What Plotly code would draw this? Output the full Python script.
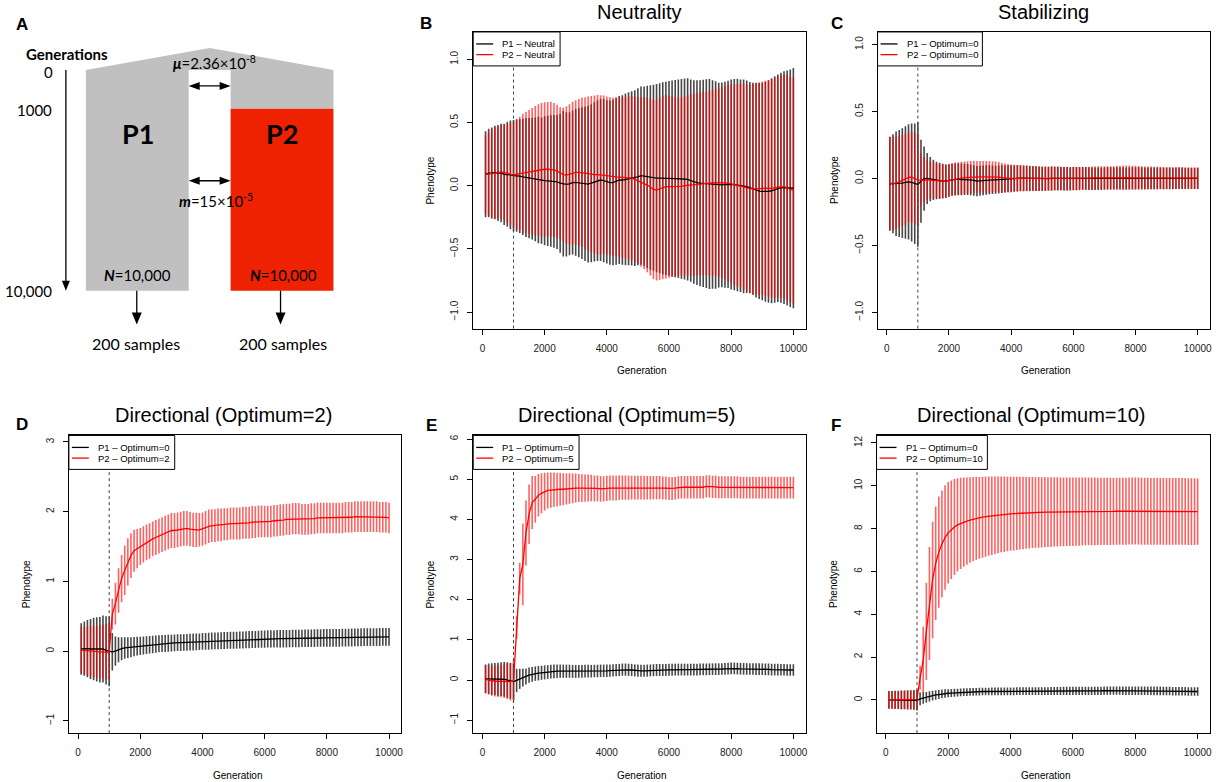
import plotly.graph_objects as go

W, H = 1220, 782

# ---------------- data ----------------
generations = list(range(100, 10001, 100))
x_ticks = [0, 2000, 4000, 6000, 8000, 10000]
onset_generation = 1000

# Panel B : Neutrality
neutral_p1_mean = [0.09, 0.10, 0.10, 0.105, 0.10, 0.10, 0.09, 0.09, 0.085, 0.08,
                   0.08, 0.075, 0.07, 0.065, 0.06, 0.055, 0.05, 0.045, 0.04, 0.04,
                   0.038, 0.037, 0.035, 0.03, 0.02, 0.015, 0.01, 0.015, 0.025, 0.027,
                   0.025, 0.02, 0.015, 0.013, 0.02, 0.03, 0.04, 0.045, 0.04, 0.03,
                   0.024, 0.025, 0.035, 0.045, 0.045, 0.05, 0.055, 0.058, 0.06, 0.07,
                   0.079, 0.075, 0.07, 0.065, 0.063, 0.06, 0.06, 0.058, 0.058, 0.058,
                   0.057, 0.056, 0.055, 0.054, 0.053, 0.05, 0.04, 0.03, 0.024, 0.02,
                   0.018, 0.016, 0.014, 0.01, 0.006, 0.005, 0.006, 0.008, 0.01, 0.01,
                   0.008, 0.005, 0.0, -0.005, -0.008, -0.015, -0.025, -0.035, -0.042, -0.045,
                   -0.047, -0.045, -0.04, -0.03, -0.02, -0.016, -0.015, -0.018, -0.02, -0.02]
neutral_p1_sd = [0.34, 0.35, 0.36, 0.37, 0.38, 0.39, 0.40, 0.415, 0.43, 0.44,
                 0.445, 0.45, 0.46, 0.47, 0.475, 0.48, 0.49, 0.50, 0.50, 0.51,
                 0.515, 0.52, 0.525, 0.53, 0.55, 0.575, 0.57, 0.565, 0.57, 0.58,
                 0.59, 0.60, 0.61, 0.62, 0.625, 0.63, 0.635, 0.64, 0.645, 0.645,
                 0.65, 0.655, 0.66, 0.665, 0.67, 0.68, 0.685, 0.69, 0.695, 0.70,
                 0.705, 0.71, 0.72, 0.73, 0.735, 0.745, 0.75, 0.76, 0.765, 0.77,
                 0.775, 0.78, 0.785, 0.79, 0.795, 0.80, 0.80, 0.805, 0.81, 0.815,
                 0.82, 0.825, 0.83, 0.825, 0.82, 0.81, 0.81, 0.815, 0.82, 0.83,
                 0.835, 0.84, 0.84, 0.845, 0.84, 0.835, 0.84, 0.85, 0.855, 0.86,
                 0.87, 0.88, 0.89, 0.895, 0.90, 0.91, 0.92, 0.93, 0.94, 0.95]
neutral_p2_mean = [0.09, 0.09, 0.095, 0.10, 0.105, 0.11, 0.105, 0.095, 0.09, 0.085,
                   0.088, 0.095, 0.10, 0.105, 0.11, 0.115, 0.12, 0.125, 0.13, 0.13,
                   0.13, 0.13, 0.125, 0.115, 0.10, 0.088, 0.084, 0.09, 0.10, 0.105,
                   0.105, 0.105, 0.10, 0.095, 0.09, 0.088, 0.087, 0.085, 0.085, 0.08,
                   0.075, 0.07, 0.07, 0.068, 0.066, 0.064, 0.063, 0.06, 0.05, 0.04,
                   0.03, 0.02, 0.005, -0.01, -0.03, -0.034, -0.025, -0.015, -0.008, -0.008,
                   -0.008, -0.01, -0.008, -0.005, 0.0, 0.003, 0.005, 0.008, 0.012, 0.015,
                   0.018, 0.018, 0.02, 0.022, 0.024, 0.024, 0.024, 0.024, 0.02, 0.015,
                   0.01, 0.005, 0.0, -0.01, -0.018, -0.024, -0.026, -0.025, -0.022, -0.02,
                   -0.02, -0.021, -0.021, -0.018, -0.012, -0.008, -0.008, -0.015, -0.03, -0.037]
neutral_p2_sd = [0.31, 0.33, 0.355, 0.36, 0.365, 0.37, 0.38, 0.39, 0.405, 0.42,
                 0.435, 0.45, 0.47, 0.48, 0.49, 0.50, 0.51, 0.52, 0.525, 0.53,
                 0.532, 0.535, 0.53, 0.525, 0.52, 0.53, 0.545, 0.555, 0.565, 0.57,
                 0.58, 0.59, 0.60, 0.61, 0.62, 0.625, 0.63, 0.63, 0.628, 0.625,
                 0.625, 0.625, 0.628, 0.63, 0.635, 0.64, 0.645, 0.65, 0.655, 0.66,
                 0.67, 0.68, 0.69, 0.70, 0.71, 0.715, 0.72, 0.725, 0.725, 0.72,
                 0.715, 0.71, 0.705, 0.705, 0.71, 0.715, 0.72, 0.72, 0.722, 0.724,
                 0.725, 0.725, 0.73, 0.735, 0.74, 0.745, 0.755, 0.765, 0.775, 0.785,
                 0.795, 0.80, 0.805, 0.81, 0.815, 0.82, 0.83, 0.835, 0.84, 0.845,
                 0.85, 0.855, 0.865, 0.87, 0.875, 0.88, 0.885, 0.89, 0.89, 0.895]

# Panel C : Stabilizing
stab_p1_mean = [-0.04, -0.04, -0.04, -0.038, -0.035, -0.03, -0.025, -0.03, -0.04, -0.045,
                -0.02, -0.002, 0.0, -0.005, -0.01, -0.015, -0.018, -0.02, -0.02, -0.015,
                -0.01, -0.007, -0.007, -0.007, -0.007, -0.008, -0.01, -0.015, -0.02, -0.018,
                -0.015, -0.012, -0.01, -0.01, -0.01, -0.008, -0.005, -0.003, -0.001, 0.0,
                0.0, 0.001, 0.002, 0.002, 0.001, 0.0, 0.0, -0.001, -0.002, -0.002,
                -0.002, -0.001, 0.0, 0.0, 0.0, -0.001, -0.002, -0.002, -0.002, -0.001,
                0.0, 0.0, 0.0, 0.0, -0.001, -0.002, -0.003, -0.003, -0.002, -0.001,
                0.0, 0.001, 0.001, 0.001, 0.0, 0.0, 0.0, 0.001, 0.002, 0.002,
                0.002, 0.001, 0.0, 0.0, 0.0, 0.0, 0.001, 0.001, 0.0, 0.0,
                0.0, 0.0, 0.001, 0.001, 0.001, 0.0, 0.0, 0.0, 0.0, 0.0]
stab_p1_sd = [0.35, 0.37, 0.39, 0.40, 0.41, 0.42, 0.43, 0.44, 0.45, 0.465,
              0.31, 0.24, 0.19, 0.165, 0.15, 0.14, 0.135, 0.13, 0.125, 0.122,
              0.12, 0.12, 0.118, 0.118, 0.117, 0.116, 0.115, 0.114, 0.113, 0.112,
              0.111, 0.11, 0.108, 0.106, 0.105, 0.104, 0.103, 0.102, 0.1, 0.099,
              0.098, 0.097, 0.096, 0.095, 0.094, 0.093, 0.092, 0.092, 0.091, 0.09,
              0.09, 0.089, 0.089, 0.088, 0.088, 0.087, 0.087, 0.087, 0.086, 0.086,
              0.086, 0.085, 0.085, 0.085, 0.085, 0.084, 0.084, 0.084, 0.084, 0.084,
              0.083, 0.083, 0.083, 0.083, 0.083, 0.083, 0.082, 0.082, 0.082, 0.082,
              0.082, 0.082, 0.081, 0.081, 0.081, 0.081, 0.081, 0.08, 0.08, 0.08,
              0.08, 0.08, 0.08, 0.08, 0.08, 0.079, 0.079, 0.079, 0.079, 0.079]
stab_p2_mean = [-0.037, -0.037, -0.035, -0.025, -0.015, -0.005, 0.008, 0.01, 0.0, -0.012,
                -0.012, -0.01, -0.01, -0.012, -0.015, -0.018, -0.02, -0.02, -0.02, -0.015,
                -0.008, -0.002, 0.0, 0.003, 0.006, 0.008, 0.01, 0.012, 0.012, 0.012,
                0.012, 0.012, 0.012, 0.012, 0.012, 0.01, 0.006, 0.003, 0.001, 0.0,
                0.0, 0.0, 0.0, 0.0, 0.0, 0.0, -0.001, -0.001, -0.002, -0.002,
                -0.002, -0.002, -0.001, 0.0, 0.0, 0.0, 0.0, -0.001, -0.002, -0.002,
                -0.002, -0.002, -0.001, 0.0, 0.002, 0.004, 0.005, 0.005, 0.005, 0.005,
                0.005, 0.005, 0.005, 0.006, 0.006, 0.006, 0.006, 0.006, 0.005, 0.005,
                0.005, 0.005, 0.004, 0.004, 0.004, 0.004, 0.003, 0.003, 0.003, 0.003,
                0.003, 0.003, 0.003, 0.003, 0.003, 0.003, 0.003, 0.003, 0.003, 0.003]
stab_p2_sd = [0.35, 0.35, 0.345, 0.34, 0.34, 0.34, 0.335, 0.34, 0.345, 0.34,
              0.2, 0.17, 0.15, 0.14, 0.135, 0.13, 0.128, 0.125, 0.124, 0.123,
              0.122, 0.122, 0.121, 0.121, 0.12, 0.12, 0.12, 0.12, 0.119, 0.119,
              0.118, 0.118, 0.117, 0.116, 0.115, 0.113, 0.11, 0.108, 0.106, 0.104,
              0.102, 0.1, 0.098, 0.097, 0.096, 0.095, 0.094, 0.093, 0.092, 0.092,
              0.091, 0.09, 0.09, 0.089, 0.089, 0.088, 0.088, 0.088, 0.087, 0.087,
              0.087, 0.086, 0.086, 0.086, 0.086, 0.086, 0.086, 0.086, 0.086, 0.086,
              0.086, 0.087, 0.087, 0.088, 0.089, 0.09, 0.09, 0.09, 0.09, 0.089,
              0.088, 0.087, 0.086, 0.085, 0.085, 0.084, 0.084, 0.083, 0.083, 0.082,
              0.082, 0.081, 0.081, 0.08, 0.08, 0.08, 0.08, 0.08, 0.08, 0.08]

# Panel D : Directional, optimum 2
dir2_p1_mean = [0.03, 0.035, 0.035, 0.03, 0.03, 0.025, 0.02, 0.03, 0.01, -0.005,
                -0.01, 0.0, 0.02, 0.035, 0.045, 0.05, 0.055, 0.065, 0.07, 0.075,
                0.08, 0.085, 0.09, 0.095, 0.1, 0.105, 0.108, 0.11, 0.112, 0.115,
                0.118, 0.12, 0.122, 0.124, 0.126, 0.128, 0.13, 0.132, 0.135, 0.138,
                0.14, 0.142, 0.144, 0.146, 0.148, 0.15, 0.152, 0.153, 0.155, 0.156,
                0.157, 0.158, 0.16, 0.162, 0.164, 0.166, 0.168, 0.17, 0.172, 0.173,
                0.174, 0.175, 0.176, 0.177, 0.178, 0.178, 0.178, 0.179, 0.18, 0.18,
                0.181, 0.182, 0.183, 0.184, 0.185, 0.186, 0.187, 0.188, 0.189, 0.19,
                0.19, 0.19, 0.19, 0.191, 0.192, 0.193, 0.194, 0.195, 0.196, 0.197,
                0.198, 0.2, 0.2, 0.2, 0.2, 0.201, 0.202, 0.203, 0.204, 0.205]
dir2_p1_sd = [0.37, 0.39, 0.41, 0.43, 0.45, 0.46, 0.47, 0.48, 0.49, 0.5,
              0.27, 0.21, 0.18, 0.165, 0.155, 0.148, 0.142, 0.138, 0.134, 0.131,
              0.129, 0.127, 0.126, 0.125, 0.124, 0.123, 0.122, 0.122, 0.121, 0.121,
              0.121, 0.12, 0.12, 0.119, 0.12, 0.12, 0.121, 0.12, 0.119, 0.12,
              0.12, 0.121, 0.121, 0.12, 0.12, 0.12, 0.121, 0.121, 0.121, 0.122,
              0.122, 0.122, 0.122, 0.123, 0.123, 0.122, 0.122, 0.123, 0.123, 0.124,
              0.124, 0.124, 0.124, 0.124, 0.125, 0.125, 0.125, 0.125, 0.125, 0.125,
              0.125, 0.125, 0.126, 0.126, 0.126, 0.126, 0.126, 0.126, 0.127, 0.127,
              0.127, 0.127, 0.127, 0.127, 0.127, 0.128, 0.128, 0.128, 0.128, 0.128,
              0.128, 0.128, 0.128, 0.128, 0.128, 0.128, 0.128, 0.128, 0.128, 0.128]
dir2_p2_mean = [0.015, 0.01, 0.005, 0.0, -0.01, -0.01, -0.01, -0.01, -0.01, -0.02,
                0.53, 0.68, 0.87, 1.04, 1.16, 1.28, 1.37, 1.44, 1.47, 1.5,
                1.53, 1.56, 1.58, 1.61, 1.63, 1.65, 1.67, 1.69, 1.71, 1.73,
                1.73, 1.74, 1.75, 1.76, 1.76, 1.75, 1.74, 1.74, 1.74, 1.75,
                1.77, 1.79, 1.8, 1.8, 1.81, 1.81, 1.82, 1.82, 1.83, 1.83,
                1.83, 1.83, 1.84, 1.84, 1.84, 1.85, 1.85, 1.86, 1.86, 1.86,
                1.86, 1.86, 1.87, 1.87, 1.88, 1.88, 1.89, 1.89, 1.9, 1.9,
                1.9, 1.89, 1.89, 1.89, 1.9, 1.9, 1.91, 1.91, 1.91, 1.91,
                1.91, 1.91, 1.91, 1.91, 1.91, 1.92, 1.92, 1.92, 1.93, 1.93,
                1.93, 1.93, 1.93, 1.93, 1.93, 1.93, 1.92, 1.92, 1.92, 1.91]
dir2_p2_sd = [0.33, 0.34, 0.35, 0.36, 0.37, 0.37, 0.38, 0.39, 0.4, 0.4,
              0.22, 0.3, 0.32, 0.34, 0.355, 0.34, 0.32, 0.3, 0.28, 0.265,
              0.26, 0.255, 0.255, 0.25, 0.25, 0.25, 0.25, 0.25, 0.25, 0.25,
              0.25, 0.25, 0.25, 0.25, 0.25, 0.245, 0.245, 0.245, 0.24, 0.24,
              0.24, 0.24, 0.235, 0.235, 0.235, 0.235, 0.23, 0.23, 0.23, 0.23,
              0.23, 0.23, 0.23, 0.23, 0.23, 0.23, 0.228, 0.228, 0.228, 0.226,
              0.226, 0.226, 0.225, 0.225, 0.225, 0.225, 0.224, 0.224, 0.224, 0.223,
              0.223, 0.222, 0.222, 0.222, 0.222, 0.221, 0.221, 0.221, 0.22, 0.22,
              0.22, 0.22, 0.22, 0.22, 0.22, 0.22, 0.22, 0.22, 0.22, 0.22,
              0.22, 0.22, 0.22, 0.22, 0.22, 0.22, 0.22, 0.22, 0.22, 0.22]

# Panel E : Directional, optimum 5
dir5_p1_mean = [0.03, 0.03, 0.025, 0.025, 0.02, 0.02, 0.02, 0.0, -0.02, -0.04,
                -0.01, 0.03, 0.06, 0.09, 0.12, 0.14, 0.16, 0.17, 0.18, 0.19,
                0.2, 0.21, 0.215, 0.22, 0.22, 0.22, 0.22, 0.22, 0.215, 0.215,
                0.215, 0.215, 0.22, 0.22, 0.22, 0.225, 0.225, 0.23, 0.23, 0.23,
                0.235, 0.24, 0.245, 0.25, 0.26, 0.26, 0.255, 0.25, 0.24, 0.235,
                0.23, 0.23, 0.235, 0.24, 0.245, 0.25, 0.25, 0.25, 0.25, 0.255,
                0.255, 0.26, 0.26, 0.26, 0.26, 0.26, 0.26, 0.26, 0.26, 0.265,
                0.265, 0.265, 0.27, 0.27, 0.27, 0.27, 0.275, 0.28, 0.285, 0.29,
                0.29, 0.285, 0.28, 0.28, 0.275, 0.275, 0.275, 0.27, 0.27, 0.27,
                0.265, 0.265, 0.26, 0.26, 0.26, 0.255, 0.255, 0.25, 0.25, 0.25]
dir5_p1_sd = [0.36, 0.38, 0.39, 0.4, 0.41, 0.42, 0.43, 0.44, 0.44, 0.45,
              0.29, 0.25, 0.22, 0.2, 0.19, 0.185, 0.18, 0.18, 0.175, 0.175,
              0.172, 0.17, 0.17, 0.168, 0.166, 0.165, 0.164, 0.163, 0.162, 0.161,
              0.16, 0.16, 0.159, 0.158, 0.157, 0.156, 0.156, 0.155, 0.155, 0.154,
              0.154, 0.153, 0.153, 0.152, 0.152, 0.152, 0.151, 0.151, 0.15, 0.15,
              0.15, 0.15, 0.15, 0.149, 0.149, 0.149, 0.149, 0.148, 0.148, 0.148,
              0.148, 0.148, 0.147, 0.147, 0.147, 0.147, 0.147, 0.147, 0.146, 0.146,
              0.146, 0.146, 0.146, 0.146, 0.146, 0.146, 0.146, 0.146, 0.146, 0.146,
              0.146, 0.146, 0.146, 0.146, 0.145, 0.145, 0.145, 0.145, 0.145, 0.145,
              0.145, 0.145, 0.145, 0.145, 0.145, 0.145, 0.145, 0.145, 0.145, 0.145]
dir5_p2_mean = [0.02, 0.0, -0.02, -0.03, -0.03, -0.03, -0.03, -0.03, -0.04, -0.02,
                1.31, 2.53, 2.88, 3.66, 4.13, 4.42, 4.5, 4.6, 4.65, 4.69,
                4.72, 4.73, 4.74, 4.74, 4.75, 4.75, 4.76, 4.77, 4.77, 4.78,
                4.78, 4.78, 4.78, 4.78, 4.78, 4.77, 4.77, 4.76, 4.76, 4.77,
                4.78, 4.78, 4.78, 4.79, 4.79, 4.79, 4.79, 4.79, 4.79, 4.79,
                4.79, 4.79, 4.79, 4.79, 4.79, 4.79, 4.79, 4.78, 4.78, 4.77,
                4.77, 4.78, 4.79, 4.8, 4.8, 4.8, 4.8, 4.8, 4.8, 4.8,
                4.8, 4.82, 4.82, 4.81, 4.81, 4.8, 4.8, 4.8, 4.8, 4.8,
                4.8, 4.8, 4.79, 4.79, 4.79, 4.79, 4.79, 4.79, 4.79, 4.79,
                4.79, 4.79, 4.79, 4.79, 4.79, 4.79, 4.79, 4.79, 4.79, 4.79]
dir5_p2_sd = [0.35, 0.36, 0.37, 0.38, 0.39, 0.4, 0.42, 0.44, 0.47, 0.52,
              0.28, 0.39, 1.02, 0.81, 0.74, 0.66, 0.58, 0.53, 0.5, 0.47,
              0.45, 0.44, 0.43, 0.42, 0.41, 0.4, 0.39, 0.38, 0.37, 0.36,
              0.35, 0.345, 0.34, 0.335, 0.33, 0.325, 0.32, 0.318, 0.316, 0.314,
              0.312, 0.31, 0.308, 0.306, 0.304, 0.302, 0.3, 0.298, 0.297, 0.296,
              0.295, 0.294, 0.293, 0.292, 0.291, 0.29, 0.289, 0.288, 0.287, 0.286,
              0.285, 0.284, 0.283, 0.282, 0.281, 0.28, 0.28, 0.279, 0.279, 0.278,
              0.278, 0.277, 0.277, 0.276, 0.276, 0.275, 0.275, 0.274, 0.274, 0.273,
              0.273, 0.272, 0.272, 0.271, 0.271, 0.27, 0.27, 0.27, 0.27, 0.27,
              0.27, 0.27, 0.27, 0.27, 0.27, 0.27, 0.27, 0.27, 0.27, 0.27]

# Panel F : Directional, optimum 10
dir10_p1_mean = [0.0, 0.0, 0.0, 0.0, 0.0, 0.0, 0.0, 0.0, 0.0, -0.02,
                 0.05, 0.09, 0.12, 0.16, 0.2, 0.23, 0.25, 0.28, 0.3, 0.31,
                 0.32, 0.33, 0.34, 0.35, 0.36, 0.365, 0.37, 0.375, 0.38, 0.385,
                 0.39, 0.39, 0.39, 0.395, 0.395, 0.4, 0.4, 0.4, 0.4, 0.4,
                 0.4, 0.405, 0.41, 0.41, 0.41, 0.41, 0.41, 0.41, 0.41, 0.41,
                 0.41, 0.41, 0.41, 0.415, 0.415, 0.415, 0.42, 0.42, 0.42, 0.42,
                 0.42, 0.42, 0.42, 0.42, 0.42, 0.425, 0.425, 0.425, 0.425, 0.43,
                 0.43, 0.43, 0.43, 0.43, 0.43, 0.43, 0.43, 0.43, 0.43, 0.43,
                 0.43, 0.43, 0.43, 0.425, 0.425, 0.42, 0.42, 0.42, 0.415, 0.41,
                 0.41, 0.405, 0.4, 0.4, 0.4, 0.4, 0.395, 0.39, 0.39, 0.39]
dir10_p1_sd = [0.41, 0.42, 0.43, 0.43, 0.44, 0.44, 0.45, 0.45, 0.46, 0.48,
               0.3, 0.27, 0.25, 0.24, 0.23, 0.22, 0.21, 0.2, 0.2, 0.19,
               0.19, 0.19, 0.185, 0.185, 0.18, 0.18, 0.18, 0.18, 0.18, 0.18,
               0.18, 0.18, 0.18, 0.18, 0.18, 0.18, 0.18, 0.18, 0.18, 0.18,
               0.18, 0.18, 0.181, 0.181, 0.182, 0.182, 0.183, 0.183, 0.184, 0.184,
               0.185, 0.185, 0.186, 0.186, 0.187, 0.187, 0.188, 0.188, 0.189, 0.189,
               0.19, 0.19, 0.19, 0.191, 0.191, 0.192, 0.192, 0.193, 0.193, 0.194,
               0.194, 0.195, 0.195, 0.196, 0.196, 0.197, 0.197, 0.198, 0.198, 0.199,
               0.199, 0.2, 0.2, 0.2, 0.2, 0.2, 0.2, 0.2, 0.2, 0.2,
               0.2, 0.2, 0.2, 0.2, 0.2, 0.2, 0.2, 0.2, 0.2, 0.2]
dir10_p2_mean = [0.0, 0.0, 0.0, 0.0, 0.0, 0.0, 0.0, 0.0, 0.0, 0.02,
                 1.03, 1.86, 3.2, 4.5, 5.6, 6.38, 6.9, 7.28, 7.58, 7.8,
                 7.95, 8.07, 8.17, 8.24, 8.3, 8.35, 8.4, 8.44, 8.48, 8.5,
                 8.53, 8.56, 8.58, 8.6, 8.62, 8.64, 8.66, 8.67, 8.68, 8.69,
                 8.7, 8.71, 8.72, 8.73, 8.74, 8.74, 8.75, 8.75, 8.76, 8.76,
                 8.77, 8.77, 8.77, 8.78, 8.78, 8.78, 8.78, 8.79, 8.79, 8.79,
                 8.79, 8.79, 8.8, 8.8, 8.8, 8.8, 8.8, 8.8, 8.8, 8.8,
                 8.8, 8.8, 8.8, 8.81, 8.81, 8.81, 8.81, 8.82, 8.82, 8.82,
                 8.82, 8.81, 8.81, 8.81, 8.8, 8.8, 8.8, 8.8, 8.8, 8.8,
                 8.8, 8.8, 8.8, 8.8, 8.8, 8.8, 8.79, 8.79, 8.79, 8.79]
dir10_p2_sd = [0.4, 0.41, 0.42, 0.42, 0.43, 0.43, 0.44, 0.44, 0.45, 0.48,
               0.56, 1.55, 2.27, 2.64, 2.72, 2.65, 2.6, 2.5, 2.44, 2.37,
               2.3, 2.24, 2.18, 2.13, 2.08, 2.04, 2.0, 1.97, 1.94, 1.91,
               1.89, 1.87, 1.85, 1.83, 1.81, 1.79, 1.77, 1.76, 1.74, 1.73,
               1.72, 1.71, 1.7, 1.69, 1.68, 1.67, 1.66, 1.65, 1.65, 1.64,
               1.64, 1.63, 1.63, 1.62, 1.62, 1.61, 1.61, 1.6, 1.6, 1.6,
               1.59, 1.59, 1.59, 1.58, 1.58, 1.58, 1.58, 1.57, 1.57, 1.57,
               1.57, 1.57, 1.56, 1.56, 1.56, 1.56, 1.56, 1.56, 1.56, 1.56,
               1.56, 1.56, 1.56, 1.56, 1.56, 1.56, 1.56, 1.56, 1.56, 1.56,
               1.56, 1.56, 1.56, 1.56, 1.56, 1.56, 1.56, 1.56, 1.56, 1.55]

panel_titles = ["Neutrality", "Stabilizing", "Directional (Optimum=2)",
                "Directional (Optimum=5)", "Directional (Optimum=10)"]
panel_letters = ["B", "C", "D", "E", "F"]
legend_p1 = ["P1 – Neutral", "P1 – Optimum=0", "P1 – Optimum=0", "P1 – Optimum=0", "P1 – Optimum=0"]
legend_p2 = ["P2 – Neutral", "P2 – Optimum=0", "P2 – Optimum=2", "P2 – Optimum=5", "P2 – Optimum=10"]
y_tick_values = [[-1.0, -0.5, 0.0, 0.5, 1.0], [-1.0, -0.5, 0.0, 0.5, 1.0],
                 [-1, 0, 1, 2, 3], [-1, 0, 1, 2, 3, 4, 5, 6], [0, 2, 4, 6, 8, 10, 12]]
series = [
    (neutral_p1_mean, neutral_p1_sd, neutral_p2_mean, neutral_p2_sd),
    (stab_p1_mean, stab_p1_sd, stab_p2_mean, stab_p2_sd),
    (dir2_p1_mean, dir2_p1_sd, dir2_p2_mean, dir2_p2_sd),
    (dir5_p1_mean, dir5_p1_sd, dir5_p2_mean, dir5_p2_sd),
    (dir10_p1_mean, dir10_p1_sd, dir10_p2_mean, dir10_p2_sd),
]

# ---------------- layout (pixel geometry) ----------------
boxes = [(474, 807, 31, 328), (879, 1212, 31, 328), (69, 402, 435, 733),
         (474, 807, 435, 733), (878, 1212, 435, 733)]
y_ranges = [[-1.13, 1.216], [-1.121, 1.094], [-1.176, 3.094], [-1.32, 6.09], [-1.55, 12.35]]
y_formats = [".1f", ".1f", "d", "d", "d"]
legend_widths = [87, 105, 106, 106, 111]
title_pos = [(640, 11), (1045, 11), (224, 415), (628, 415), (1033, 415)]
letter_pos = [(427, 23), (838, 23), (22, 424), (432, 425), (837, 425)]
x_range = [-296, 10396]

RSANS = "Liberation Sans, Arial, sans-serif"
CAL = "Lato, Carlito, sans-serif"


def px(x):
    return x / W


def py(y):
    return 1 - y / H


fig = go.Figure()
shapes = []
annotations = []
layout_axes = {}

for k in range(5):
    ax = k + 2
    xa, ya = f"x{ax}", f"y{ax}"
    x0, x1, y0, y1 = boxes[k]
    m1, s1, m2, s2 = series[k]
    # error bars (mean +/- sd)
    fig.add_trace(go.Scatter(x=generations, y=m1, mode="markers", xaxis=xa, yaxis=ya,
                             marker=dict(size=1, color="rgba(0,0,0,0)"), showlegend=False,
                             error_y=dict(type="data", array=s1, visible=True, width=0,
                                          thickness=1.6, color="rgba(0,0,0,0.72)")))
    fig.add_trace(go.Scatter(x=generations, y=m2, mode="markers", xaxis=xa, yaxis=ya,
                             marker=dict(size=1, color="rgba(0,0,0,0)"), showlegend=False,
                             error_y=dict(type="data", array=s2, visible=True, width=0,
                                          thickness=1.6, color="rgba(255,0,0,0.62)")))
    fig.add_trace(go.Scatter(x=generations, y=m1, mode="lines", xaxis=xa, yaxis=ya,
                             line=dict(color="black", width=1.3), showlegend=False,
                             name=legend_p1[k]))
    fig.add_trace(go.Scatter(x=generations, y=m2, mode="lines", xaxis=xa, yaxis=ya,
                             line=dict(color="#ff0000", width=1.3), showlegend=False,
                             name=legend_p2[k]))

    layout_axes[f"xaxis{ax}"] = dict(
        domain=[px(x0), px(x1)], anchor=ya, range=x_range, tickvals=x_ticks, tickformat="d",
        ticks="outside", ticklen=5, tickwidth=1, tickcolor="black",
        showline=True, mirror=True, linecolor="black", linewidth=1,
        showgrid=False, zeroline=False, ticklabelstandoff=5,
        tickfont=dict(family=RSANS, size=10, color="#222"))
    layout_axes[f"yaxis{ax}"] = dict(
        domain=[py(y1), py(y0)], anchor=xa, range=y_ranges[k], tickvals=y_tick_values[k],
        tickformat=y_formats[k], tickangle=-90,
        ticks="outside", ticklen=5, tickwidth=1, tickcolor="black",
        showline=True, mirror=True, linecolor="black", linewidth=1,
        showgrid=False, zeroline=False, ticklabelstandoff=5,
        tickfont=dict(family=RSANS, size=10, color="#222"))

    # onset of selection line
    shapes.append(dict(type="line", xref=xa, yref=f"{ya} domain", x0=onset_generation,
                       x1=onset_generation, y0=0, y1=1, layer="above",
                       line=dict(color="#444", width=1, dash="dot")))
    # legend box
    lw = legend_widths[k]
    shapes.append(dict(type="rect", xref="paper", yref="paper", x0=px(x0), x1=px(x0 + lw),
                       y0=py(y0 + 34), y1=py(y0), fillcolor="white", layer="above",
                       line=dict(color="black", width=1)))
    for j, (lab, col) in enumerate([(legend_p1[k], "black"), (legend_p2[k], "#ff0000")]):
        yy = y0 + 12 + j * 10.7
        shapes.append(dict(type="line", xref="paper", yref="paper", x0=px(x0 + 3),
                           x1=px(x0 + 20), y0=py(yy), y1=py(yy), layer="above",
                           line=dict(color=col, width=1.3)))
        annotations.append(dict(text=lab, x=px(x0 + 27), y=py(yy), xref="paper", yref="paper",
                                xanchor="left", yanchor="middle", showarrow=False,
                                font=dict(family=RSANS, size=9.5, color="black")))
    # axis titles
    annotations.append(dict(text="Generation", x=px((x0 + x1) / 2 + 2), y=py(y1 + 42),
                            xref="paper", yref="paper", showarrow=False,
                            xanchor="center", yanchor="middle",
                            font=dict(family=RSANS, size=10, color="black")))
    annotations.append(dict(text="Phenotype", x=px(x0 - 43), y=py((y0 + y1) / 2),
                            xref="paper", yref="paper", showarrow=False, textangle=-90,
                            xanchor="center", yanchor="middle",
                            font=dict(family=RSANS, size=10, color="black")))
    # title and panel letter
    tx, ty = title_pos[k]
    annotations.append(dict(text=panel_titles[k], x=px(tx), y=py(ty), xref="paper", yref="paper",
                            showarrow=False, xanchor="center", yanchor="middle",
                            font=dict(family=RSANS, size=20, color="black")))
    lx, ly = letter_pos[k]
    annotations.append(dict(text=f"<b>{panel_letters[k]}</b>", x=px(lx), y=py(ly),
                            xref="paper", yref="paper", showarrow=False,
                            xanchor="center", yanchor="middle",
                            font=dict(family=RSANS, size=17, color="black")))

# ---------------- panel A : schematic ----------------
GRAY = "#c0c0c0"
RED = "#ee2200"
A_sh = dict(xref="x", yref="y", layer="above")
shapes.append(dict(type="path", path="M86,290 L86,69 L210,47 L334,69 L334,108 L231,108 L231,69 L189,69 L189,290 Z",
                   fillcolor=GRAY, line=dict(width=0), **A_sh))
shapes.append(dict(type="rect", x0=231, x1=334, y0=108, y1=290, fillcolor=RED,
                   line=dict(width=0), **A_sh))
# time arrow
shapes.append(dict(type="line", x0=66, x1=66, y0=69, y1=282, line=dict(color="black", width=1.3), **A_sh))
shapes.append(dict(type="path", path="M62,280 L70,280 L66,290 Z", fillcolor="black",
                   line=dict(width=0), **A_sh))
# double arrows (mutation and migration)
for yy in (85, 180):
    shapes.append(dict(type="line", x0=199, x1=221, y0=yy, y1=yy, line=dict(color="black", width=1.3), **A_sh))
    shapes.append(dict(type="path", path=f"M189,{yy} L200,{yy-4} L200,{yy+4} Z", fillcolor="black",
                       line=dict(width=0), **A_sh))
    shapes.append(dict(type="path", path=f"M231,{yy} L220,{yy-4} L220,{yy+4} Z", fillcolor="black",
                       line=dict(width=0), **A_sh))
# sampling arrows
for xx in (137, 281):
    shapes.append(dict(type="line", x0=xx, x1=xx, y0=290, y1=314, line=dict(color="black", width=1.3), **A_sh))
    shapes.append(dict(type="path", path=f"M{xx-5},312 L{xx+5},312 L{xx},324 Z", fillcolor="black",
                       line=dict(width=0), **A_sh))


def a_text(text, x, y, size, xanchor="center", family=CAL):
    annotations.append(dict(text=text, x=x, y=y, xref="x", yref="y", showarrow=False,
                            xanchor=xanchor, yanchor="middle",
                            font=dict(family=family, size=size, color="black")))


a_text("<b>A</b>", 22, 24, 17, family=RSANS)
a_text("<b>Generations</b>", 67, 53, 15)
a_text("0", 49, 71, 15)
a_text("1000", 54, 109, 15, xanchor="right")
a_text("10,000", 54, 290, 15, xanchor="right")
a_text("<b><i>μ</i></b>=2.36×10<sup>-8</sup>", 215, 62, 15)
a_text("<b>P1</b>", 138, 133, 27)
a_text("<b>P2</b>", 282, 133, 27)
a_text("<b><i>m</i></b>=15×10<sup>-5</sup>", 216, 200, 15)
a_text("<b><i>N</i></b>=10,000", 138, 274, 15)
a_text("<b><i>N</i></b>=10,000", 284, 274, 15)
a_text("200 samples", 136, 343, 16)
a_text("200 samples", 283, 343, 16)

layout_axes["xaxis"] = dict(domain=[0, px(400)], range=[0, 400], visible=False, anchor="y")
layout_axes["yaxis"] = dict(domain=[py(360), 1], range=[360, 0], visible=False, anchor="x")
# invisible anchor trace so panel A axes exist
fig.add_trace(go.Scatter(x=[0], y=[0], xaxis="x", yaxis="y", mode="markers",
                         marker=dict(size=1, color="rgba(0,0,0,0)"), showlegend=False))

fig.update_layout(width=W, height=H, margin=dict(l=0, r=0, t=0, b=0),
                  paper_bgcolor="white", plot_bgcolor="white", showlegend=False,
                  hovermode=False, shapes=shapes, annotations=annotations, **layout_axes)

fig.write_html("out.html", config={"displayModeBar": False, "staticPlot": True},
               post_script="document.body.style.margin='0';document.body.style.padding='0';")
